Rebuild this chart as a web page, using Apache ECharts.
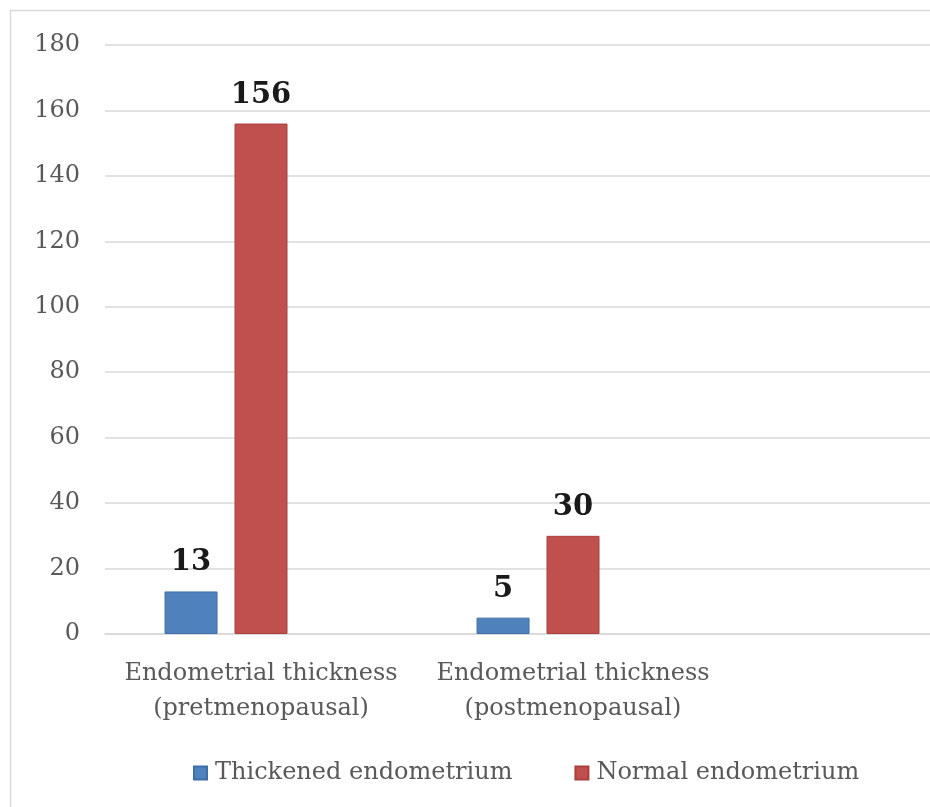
<!DOCTYPE html>
<html>
<head>
<meta charset="utf-8">
<script src="https://cdn.jsdelivr.net/npm/echarts@6/dist/echarts.min.js"></script>
<style>
  html, body { margin: 0; padding: 0; background: #fff; }
  #chart { width: 930px; height: 807px; }
</style>
</head>
<body>
<div id="chart"></div>
<script>
// data -----------------
var categories = ['Endometrial thickness\n(pretmenopausal)', 'Endometrial thickness\n(postmenopausal)', ''];
var thickened = [13, 5, null];
var normal = [156, 30, null];
var spare = [null, null, null];   // empty third series, keeps the excel spacing
var yTicks = [0, 20, 40, 60, 80, 100, 120, 140, 160, 180];

var myChart = echarts.init(document.getElementById('chart'));

var labelFont = 'DejaVu Serif';
var dataLabel = {
    show: true,
    position: 'top',
    distance: 14,
    fontFamily: labelFont,
    fontWeight: 'bold',
    fontSize: 29,
    color: '#1a1a1a'
};

option = {
    animation: false,
    backgroundColor: '#fff',
    graphic: [{
        type: 'rect',
        shape: { x: 10.5, y: 10.5, width: 940, height: 820 },
        style: { fill: 'none', stroke: '#d9d9d9', lineWidth: 1.5 }
    }],
    legend: {
        data: ['Thickened endometrium', 'Normal endometrium'],
        left: 188,
        top: 756,
        itemWidth: 13,
        itemHeight: 13,
        itemGap: 62,
        icon: 'rect',
        textStyle: {
            fontFamily: labelFont,
            fontSize: 24,
            color: '#595959',
            padding: [0, 0, 0, 3]
        }
    },
    grid: {
        left: 105,
        top: 45,
        width: 936,
        height: 589,
        outerBoundsMode: 'none'
    },
    xAxis: [{
        type: 'category',
        data: categories,
        axisTick: { show: false },
        axisLine: { lineStyle: { color: '#d9d9d9', width: 1.5 } },
        axisLabel: {
            fontFamily: labelFont,
            fontSize: 24,
            color: '#595959',
            lineHeight: 35,
            margin: 22,
            interval: 0
        }
    }],
    yAxis: [{
        type: 'value',
        min: yTicks[0],
        max: yTicks[yTicks.length - 1],
        interval: 20,
        axisLine: { show: false },
        axisTick: { show: false },
        splitLine: { lineStyle: { color: '#d9d9d9', width: 1.5 } },
        axisLabel: {
            fontFamily: labelFont,
            fontSize: 24,
            color: '#595959',
            margin: 25
        }
    }],
    series: [
        {
            name: 'Thickened endometrium',
            type: 'bar',
            data: thickened,
            barWidth: 53,
            barGap: '32%',
            itemStyle: { color: '#4F81BD', borderColor: '#3f6fa8', borderWidth: 1 },
            label: dataLabel
        },
        {
            name: 'Normal endometrium',
            type: 'bar',
            data: normal,
            barWidth: 53,
            barGap: '32%',
            itemStyle: { color: '#C0504D', borderColor: '#a9403d', borderWidth: 1 },
            label: dataLabel
        },
        {
            name: 'spare',
            type: 'bar',
            data: spare,
            barWidth: 53,
            barGap: '32%'
        }
    ]
};
myChart.setOption(option);
</script>
</body>
</html>
